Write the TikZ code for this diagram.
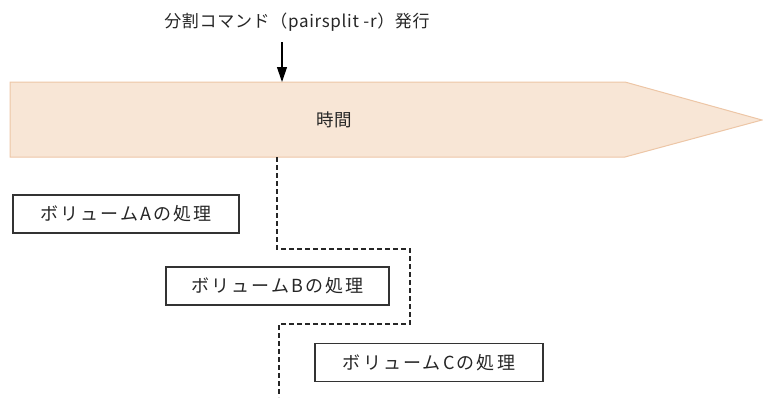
\documentclass[tikz,border=0pt]{standalone}
\usepackage{fontspec}
\setmainfont{Noto Sans CJK JP}
\usetikzlibrary{arrows.meta}
\definecolor{bandfill}{HTML}{F8E6D6}
\definecolor{banddraw}{HTML}{EDC6A6}
\tikzset{
  procbox/.style={draw=black!80, line width=1.2pt, minimum height=38pt, inner sep=0pt, font=\fontsize{18}{20}\selectfont\addfontfeature{LetterSpace=12}, text=black!85},
  guide/.style={draw=black!85, line width=1.4pt, dash pattern=on 5pt off 3pt},
  cmdarrow/.style={draw=black, line width=1.2pt, -{Triangle[length=15pt,width=10pt]}},
}
\begin{document}
\begin{tikzpicture}[x=1pt,y=-1pt]
\useasboundingbox (0,0) rectangle (763,397);
% time band
\coordinate (b1) at (10,82);
\coordinate (b2) at (625,82);
\coordinate (b3) at (762,120);
\coordinate (b4) at (625,157);
\coordinate (b5) at (10,157);
\draw[fill=bandfill, draw=banddraw, line width=1pt] (b1) -- (b2) -- (b3) -- (b4) -- (b5) -- cycle;
\node[font=\fontsize{17.5}{19}\selectfont, text=black!85] (time) at (334,120) {時間};
% command
\node[font=\fontsize{17}{19}\selectfont\addfontfeature{LetterSpace=4}, text=black!85] (cmd) at (297,22) {分割コマンド（pairsplit -r）発行};
\coordinate (hit) at (282,82);
\draw[cmdarrow] (282,42) -- (hit);
% boxes
\node[procbox, minimum width=226pt] (A) at (126,214) {ボリュームAの処理};
\node[procbox, minimum width=223pt] (B) at (277.5,286) {ボリュームBの処理};
\node[procbox, minimum width=228pt] (C) at (429,362.5) {ボリュームCの処理};
% dashed guide
\coordinate (d0) at (277,157);
\coordinate (d1) at (277,249);
\coordinate (d2) at (410,249);
\coordinate (d3) at (410,324);
\coordinate (d4) at (279,324);
\coordinate (d5) at (279,397);
\draw[guide] (d0) -- (d1) -- (d2) -- (d3) -- (d4) -- (d5);
\end{tikzpicture}
\end{document}
